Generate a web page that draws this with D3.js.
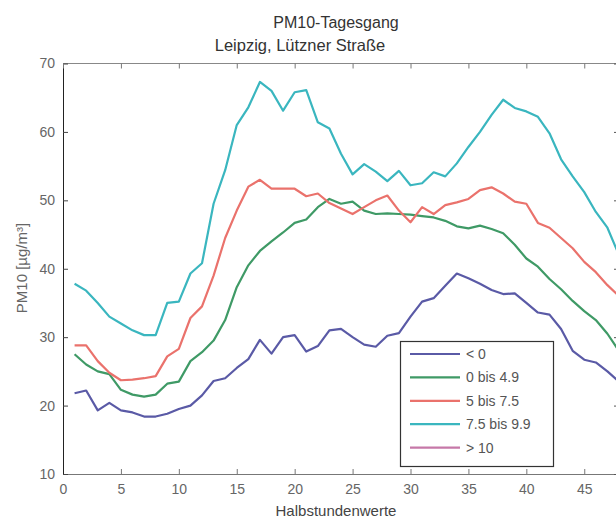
<!DOCTYPE html>
<html><head><meta charset="utf-8">
<script src="https://cdn.jsdelivr.net/npm/d3@7"></script>
<style>
body{margin:0;background:#fff}
svg{display:block}
text{font-family:"Liberation Sans",Arial,sans-serif}
</style>
</head><body>
<svg id="chart" width="616" height="522"></svg>
<script>
// ---- data ----
const halfHours = [1,2,3,4,5,6,7,8,9,10,11,12,13,14,15,16,17,18,19,20,21,22,23,24,
                   25,26,27,28,29,30,31,32,33,34,35,36,37,38,39,40,41,42,43,44,45,46,47,48];
const seriesNames = ["< 0", "0 bis 4.9", "5 bis 7.5", "7.5 bis 9.9", "> 10"];
const seriesColors = ["#5a5aa6", "#3f9a66", "#ea726c", "#3ab6bf", "#c678a8"];

const valuesBelow0 = [21.8,22.2,19.3,20.4,19.3,19.0,18.4,18.4,18.8,19.5,20.0,21.5,23.6,24.0,25.5,26.8,
                      29.6,27.6,30.0,30.3,27.9,28.7,31.0,31.2,30.0,28.9,28.6,30.2,30.6,33.0,35.2,35.7,
                      37.5,39.3,38.6,37.8,36.9,36.3,36.4,35.0,33.6,33.3,31.2,28.0,26.7,26.3,25.0,23.5];
const values0to49 = [27.5,26.0,25.0,24.6,22.3,21.6,21.3,21.6,23.2,23.5,26.5,27.8,29.5,32.5,37.3,40.5,
                     42.6,44.0,45.3,46.7,47.2,49.0,50.2,49.5,49.8,48.5,48.0,48.1,48.0,47.9,47.7,47.5,
                     47.0,46.2,45.9,46.3,45.8,45.2,43.5,41.5,40.3,38.5,37.0,35.3,33.8,32.5,30.5,28.0];
const values5to75 = [28.8,28.8,26.5,24.8,23.7,23.8,24.0,24.3,27.2,28.3,32.8,34.5,39.0,44.5,48.5,52.0,
                     53.0,51.7,51.7,51.7,50.6,51.0,49.6,48.8,48.0,49.0,50.0,50.7,48.5,46.8,49.0,48.0,
                     49.3,49.7,50.2,51.5,51.9,51.0,49.8,49.5,46.7,46.0,44.5,43.0,41.0,39.5,37.6,36.0];
const values75to99 = [37.8,36.8,35.0,33.0,32.0,31.0,30.3,30.3,35.0,35.2,39.3,40.8,49.5,54.4,61.0,63.6,
                      67.3,66.0,63.1,65.8,66.1,61.4,60.5,56.8,53.8,55.3,54.2,52.8,54.3,52.2,52.5,54.1,
                      53.5,55.4,57.8,60.0,62.5,64.7,63.5,63.0,62.2,59.8,56.0,53.5,51.2,48.3,46.0,42.0];
const valuesAbove10 = []; // no curve visible in the chart

const xTicks = [0,5,10,15,20,25,30,35,40,45];
const yTicks = [10,20,30,40,50,60,70];

const allSeries = [valuesBelow0, values0to49, values5to75, values75to99, valuesAbove10];

// ---- layout ----
const svg = d3.select("#chart");
const pL = 63, pR = 619, pT = 63.5, pB = 474;
const x = d3.scaleLinear().domain([0, 48]).range([pL, pR]);
const y = d3.scaleLinear().domain([10, 70]).range([pB, pT]);

svg.append("defs").append("clipPath").attr("id","plotclip")
  .append("rect").attr("x",pL).attr("y",pT).attr("width",pR-pL).attr("height",pB-pT);

// titles
svg.append("text").attr("x", 336).attr("y", 28).attr("text-anchor","middle")
  .attr("font-size", 16).attr("fill","#333").text("PM10-Tagesgang");
svg.append("text").attr("x", 300).attr("y", 51).attr("text-anchor","middle")
  .attr("font-size", 16.5).attr("fill","#333").text("Leipzig, Lützner Straße");

// frame
svg.append("line").attr("x1",pL).attr("x2",pR).attr("y1",pT).attr("y2",pT).attr("stroke","#888");
svg.append("line").attr("x1",pR).attr("x2",pR).attr("y1",pT).attr("y2",pB).attr("stroke","#666");

// axes (ticks inward)
const xAxis = d3.axisBottom(x).tickValues(xTicks).tickSizeInner(-5).tickSizeOuter(0).tickPadding(10);
const gx = svg.append("g").attr("transform",`translate(0,${pB})`).call(xAxis);
gx.select(".domain").attr("stroke","#777");
gx.selectAll(".tick line").attr("stroke","#777");
gx.selectAll("text").attr("font-size",14).attr("fill","#666")
  .attr("font-family","'Liberation Sans',Arial,sans-serif");

const yAxis = d3.axisLeft(y).tickValues(yTicks).tickSizeInner(-5).tickSizeOuter(0).tickPadding(8);
const gy = svg.append("g").attr("transform",`translate(${pL},0)`).call(yAxis);
gy.select(".domain").attr("stroke","#222");
gy.selectAll(".tick line").attr("stroke","#444");
gy.selectAll("text").attr("font-size",14).attr("fill","#666")
  .attr("font-family","'Liberation Sans',Arial,sans-serif");

// top ticks
const gt = svg.append("g").attr("transform",`translate(0,${pT})`)
  .call(d3.axisTop(x).tickValues(xTicks).tickSizeInner(-5).tickSizeOuter(0).tickFormat(""));
gt.select(".domain").remove();
gt.selectAll(".tick line").attr("stroke","#777");
// right ticks
const gr = svg.append("g").attr("transform",`translate(${pR},0)`)
  .call(d3.axisRight(y).tickValues(yTicks).tickSizeInner(-5).tickSizeOuter(0).tickFormat(""));
gr.select(".domain").remove();
gr.selectAll(".tick line").attr("stroke","#555");

// axis labels
svg.append("text").attr("x", 336).attr("y", 516).attr("text-anchor","middle")
  .attr("font-size", 15).attr("fill","#444").text("Halbstundenwerte");
svg.append("text").attr("transform","translate(27,268) rotate(-90)").attr("text-anchor","middle")
  .attr("font-size", 15).attr("fill","#666").text("PM10 [µg/m³]");

// lines
const line = d3.line().x((d,i)=>x(halfHours[i])).y(d=>y(d));
const plot = svg.append("g").attr("clip-path","url(#plotclip)");
allSeries.forEach((vals, k) => {
  if (!vals.length) return;
  plot.append("path").datum(vals).attr("d", line)
    .attr("fill","none").attr("stroke", seriesColors[k]).attr("stroke-width", 2.2)
    .attr("stroke-linejoin","round");
});

// legend
const lg = svg.append("g");
lg.append("rect").attr("x",400.5).attr("y",341.5).attr("width",153).attr("height",125)
  .attr("fill","#fff").attr("stroke","#333").attr("stroke-width",1.2);
seriesNames.forEach((name, k) => {
  const yy = 354 + k*23.4;
  lg.append("line").attr("x1",410).attr("x2",460).attr("y1",yy).attr("y2",yy)
    .attr("stroke",seriesColors[k]).attr("stroke-width",2.2);
  lg.append("text").attr("x",466).attr("y",yy+5).attr("font-size",14).attr("fill","#555").text(name);
});
</script>
</body></html>
